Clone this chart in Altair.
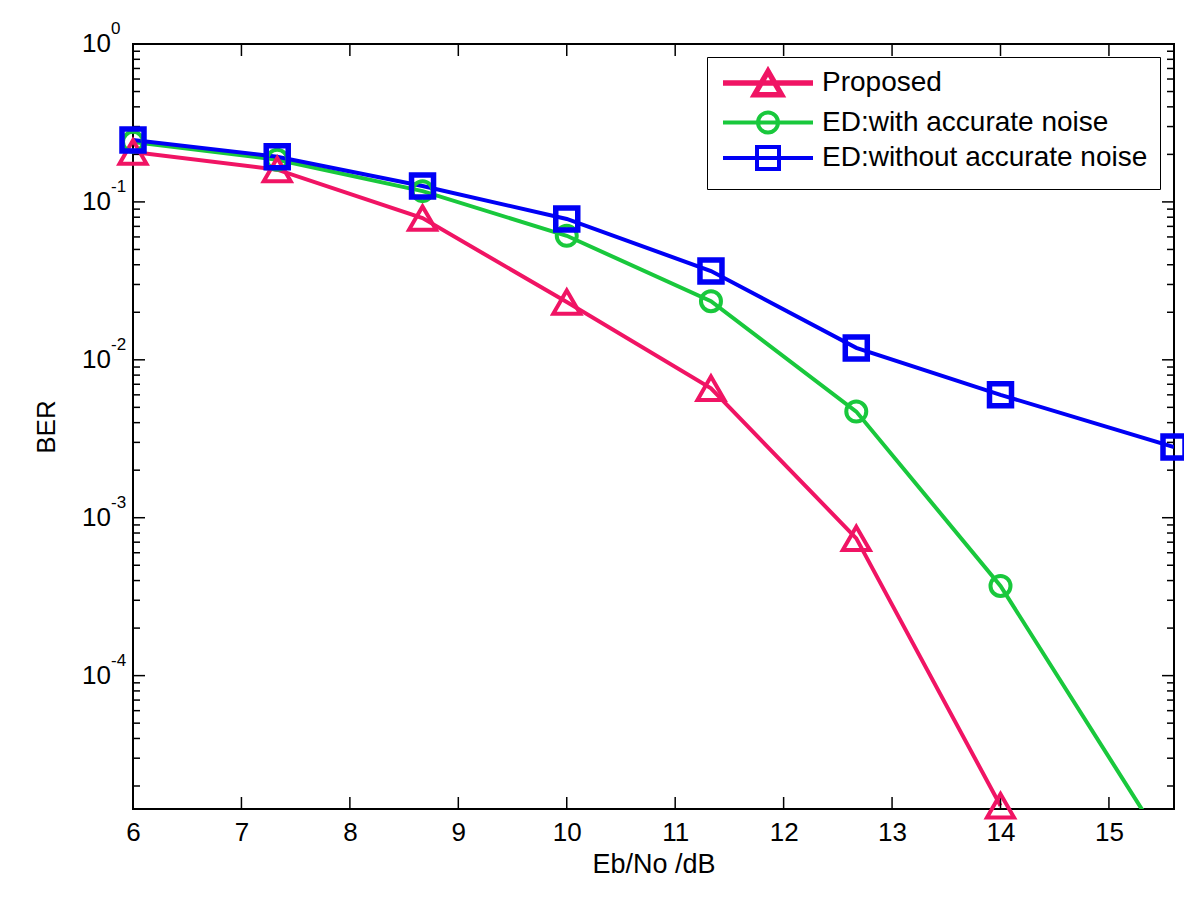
import altair as alt
import pandas as pd

FONT = "Liberation Sans"

# ---- data ----
x_ebno = [6.0, 7.33, 8.67, 10.0, 11.33, 12.67, 14.0, 15.6]
ber_proposed = [0.207, 0.16, 0.079, 0.0232, 0.0066, 7.4e-4, 1.5e-5]
ber_ed_accurate = [0.24, 0.185, 0.117, 0.061, 0.0235, 0.0047, 3.7e-4, 6.8e-6]
ber_ed_inaccurate = [0.247, 0.193, 0.126, 0.078, 0.0365, 0.0119, 0.006, 0.0028]

series_names = ["Proposed", "ED:with accurate noise", "ED:without accurate noise"]
series_colors = ["#F01464", "#19C83C", "#0000F5"]
series_shapes = ["triangle-up", "circle", "square"]
marker_sizes = [729, 400, 484]
marker_strokes = [4, 4, 5.5]

x_ticks = [6, 7, 8, 9, 10, 11, 12, 13, 14, 15]
y_decades = [1.0, 0.1, 0.01, 0.001, 0.0001]
y_exponents = ["0", "-1", "-2", "-3", "-4"]
y_minor = [m * d for d in [1e-5, 1e-4, 1e-3, 1e-2, 1e-1] for m in [2, 3, 4, 5, 6, 7, 8, 9]]

x_min, x_max = 6.0, 15.6
y_min, y_max = 1.43e-5, 1.0

W, H = 1041, 765

rows = []
for name, vals in zip(series_names, [ber_proposed, ber_ed_accurate, ber_ed_inaccurate]):
    for xv, yv in zip(x_ebno, vals):
        rows.append({"series": name, "x": xv, "ber": yv})
df = pd.DataFrame(rows)

XS = alt.Scale(domain=[x_min, x_max], nice=False, zero=False)
YS = alt.Scale(type="log", domain=[y_min, y_max], nice=False)
CS = alt.Scale(domain=series_names, range=series_colors)

x_axis = alt.Axis(values=x_ticks, ticks=False, domain=False, grid=False,
                  labelFontSize=26, labelFont=FONT, labelColor="black",
                  labelPadding=10, labelFlush=False,
                  title="Eb/No /dB", titleFont=FONT, titleFontSize=27,
                  titleFontWeight="normal", titleColor="black", titlePadding=6)
y_axis = alt.Axis(labels=False, ticks=False, domain=False, grid=False,
                  title="BER", titleFont=FONT, titleFontSize=26,
                  titleFontWeight="normal", titleColor="black", titlePadding=74)

# legend glyphs: line segment with the series marker (units of 10 px)
tri = "M-1,0H8M3.5,-1.17L2.15,1.17H4.85Z"
circ = "M-1,0H8M2.5,0A1,1,0,1,1,4.5,0A1,1,0,1,1,2.5,0"
sq = "M-1,0H8M2.4,-1.1H4.6V1.1H2.4Z"
shape_expr = ("datum.value === 'Proposed' ? '" + tri + "' : (datum.value === 'ED:with accurate noise' ? '"
              + circ + "' : '" + sq + "')")
sw_expr = "datum.value === 'Proposed' ? 5.5 : 4"

legend = alt.Legend(
    title=None, orient="none", legendX=574, legendY=13,
    symbolSize=400, labelFontSize=28, labelFont=FONT, labelColor="black",
    labelOffset=75, labelLimit=800, rowPadding=-1.5, padding=12,
    strokeColor="black", fillColor="white",
    symbolType=alt.ExprRef(expr=shape_expr),
    symbolStrokeWidth=alt.ExprRef(expr=sw_expr),
    symbolFillColor="transparent",
)

X = alt.X("x:Q", scale=XS, axis=x_axis, title="Eb/No /dB")
Y = alt.Y("ber:Q", scale=YS, axis=y_axis, title="BER")

lines = alt.Chart(df).mark_line(clip=True, strokeWidth=4).encode(
    x=X, y=Y,
    color=alt.Color("series:N", scale=CS, legend=legend),
    order=alt.Order("x:Q"),
)

point_layers = []
for name, col, shp, sz, sw in zip(series_names, series_colors, series_shapes, marker_sizes, marker_strokes):
    point_layers.append(
        alt.Chart(df).transform_filter(
            (alt.datum.series == name) & (alt.datum.ber >= y_min)
        ).mark_point(filled=False, opacity=1, clip=False, shape=shp, size=sz,
                     strokeWidth=sw, color=col).encode(x=X, y=Y)
    )

# inward ticks on all four sides
ymaj = pd.DataFrame({"ber": y_decades})
ymin_df = pd.DataFrame({"ber": y_minor})
xt = pd.DataFrame({"x": x_ticks})

def yrule(data, x0, x1):
    return alt.Chart(data).mark_rule(color="black", strokeWidth=1.5).encode(
        y=Y, x=alt.value(x0), x2=alt.value(x1))

def xrule(y0, y1):
    return alt.Chart(xt).mark_rule(color="black", strokeWidth=1.5).encode(
        x=X, y=alt.value(y0), y2=alt.value(y1))

ticks = [
    yrule(ymaj, 0, 12), yrule(ymin_df, 0, 7),
    yrule(ymaj, W, W - 12), yrule(ymin_df, W, W - 7),
    xrule(H, H - 12), xrule(0, 12),
]

ylab = pd.DataFrame({"ber": y_decades, "exp": y_exponents})
ybase = alt.Chart(ylab).mark_text(align="right", baseline="middle", fontSize=26,
                                  font=FONT, color="black", text="10").encode(
    y=Y, x=alt.value(-22))
yexp = alt.Chart(ylab).mark_text(align="left", baseline="middle", fontSize=17,
                                 font=FONT, color="black", dy=-15).encode(
    y=Y, x=alt.value(-22), text="exp:N")

chart = alt.layer(lines, *ticks, ybase, yexp, *point_layers).properties(
    width=W, height=H,
    padding={"left": 125, "top": 36, "right": 10, "bottom": 80},
    autosize=alt.AutoSizeParams(type="none"),
    background="white",
).configure_view(stroke="black", strokeWidth=2)

chart.save("out.html", embed_options={"renderer": "svg", "actions": False})
